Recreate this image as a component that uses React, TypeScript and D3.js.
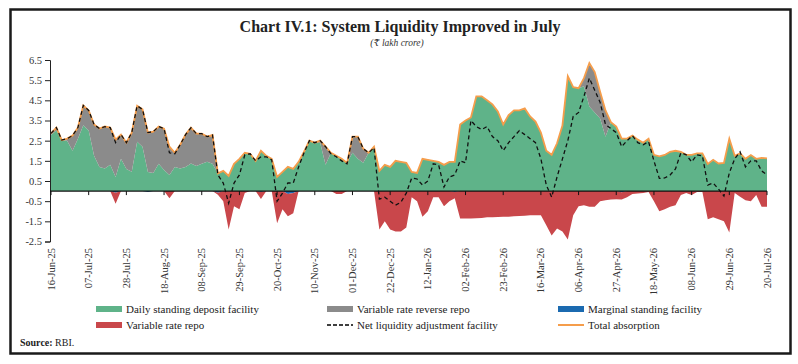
import React, { useEffect, useRef } from "react";
import * as d3 from "d3";

// x tick labels (every 3 weeks)
const tickLabels = [
  "16-Jun-25", "07-Jul-25", "28-Jul-25", "18-Aug-25", "08-Sep-25", "29-Sep-25", "20-Oct-25",
  "10-Nov-25", "01-Dec-25", "22-Dec-25", "12-Jan-26", "02-Feb-26", "23-Feb-26", "16-Mar-26",
  "06-Apr-26", "27-Apr-26", "18-May-26", "08-Jun-26", "29-Jun-26", "20-Jul-26",
];
const yTicks = [6.5, 5.5, 4.5, 3.5, 2.5, 1.5, 0.5, -0.5, -1.5, -2.5];

// readings every 3 days from 16-Jun-25 (₹ lakh crore)
const sdf = [
  2.78, 3.0, 2.53, 2.5, 2.0, 2.6, 3.27, 3.0, 1.75, 1.2, 1.12, 1.3, 0.7, 1.6, 1.1, 0.96, 2.45, 2.2, 0.95, 0.9,
  1.35, 1.05, 0.8, 1.2, 1.12, 1.2, 1.37, 1.25, 1.35, 1.45, 1.35, 0.88, 1.0, 0.75,
  1.35, 1.6, 1.9, 1.85, 1.5, 2.0, 1.75, 1.6, 0.7, 0.95, 1.2, 1.1, 1.45, 1.95, 2.5, 2.4, 2.4, 1.3, 1.9, 1.75,
  1.6, 1.4, 1.9, 1.6, 1.4, 1.9, 2.2, 1.0, 1.3, 1.2, 1.5, 1.45, 1.4,
  0.95, 0.9, 1.6, 1.55, 1.5, 1.45, 1.3, 1.45, 1.45, 3.3, 3.5, 3.65, 4.7, 4.7, 4.5, 4.3, 3.95, 3.3, 3.77, 4.0,
  4.0, 4.1, 3.7, 3.45, 2.9, 2.0, 1.8, 2.37, 3.25, 5.7, 5.15, 5.1, 5.2,
  4.2, 3.9, 3.6, 2.7, 3.42, 3.2, 2.6, 2.6, 2.75, 2.55, 2.4, 2.6, 1.8, 1.72, 1.79, 1.95, 2.0, 1.95, 1.8, 1.8,
  1.87, 1.87, 1.35, 1.55, 1.37, 1.4, 2.6, 1.75, 1.87, 1.6, 1.79, 1.6, 1.65, 1.62,
];
const vrrr = [
  0.08, 0.15, 0, 0.1, 0.75, 0.55, 0.98, 1.0, 1.55, 1.9, 2.08, 1.85, 1.85, 1.2, 1.3, 1.94, 1.78, 1.85, 1.95, 2.05,
  1.85, 2.05, 1.4, 0.7, 1.18, 1.6, 1.77, 1.6, 1.5, 1.25, 1.43, 0, 0, 0,
  0, 0, 0, 0, 0, 0, 0, 0, 0, 0, 0, 0, 0, 0, 0, 0, 0.1, 0.9, 0, 0,
  0, 0, 0.8, 1.1, 0.7, 0, 0, 0, 0, 0, 0, 0, 0,
  0, 0, 0, 0, 0, 0, 0, 0, 0, 0, 0, 0, 0, 0, 0, 0, 0, 0, 0, 0,
  0, 0, 0, 0, 0, 0, 0, 0, 0, 0, 0, 0, 0.4,
  2.15, 2.0, 1.33, 1.3, 0, 0, 0, 0, 0, 0, 0, 0, 0, 0, 0, 0, 0, 0, 0, 0,
  0, 0, 0, 0, 0, 0, 0, 0, 0, 0, 0, 0, 0, 0,
];
const msf = [
  0, 0, 0, 0, 0, 0, 0, 0, 0, 0, 0, 0, -0.08, 0, 0, 0, 0, 0, -0.05, 0,
  0, 0, 0, 0, 0, 0, 0, 0, 0, 0, 0, -0.08, 0, 0,
  0, 0, 0, 0, 0, -0.04, 0, 0, 0, 0, -0.15, -0.1, 0, 0, 0, 0, 0, 0, 0, 0,
  0, 0, 0, 0, 0, 0, 0, 0, 0, 0, 0, 0, 0,
  0, 0, 0, 0, 0, 0, 0, 0, -0.05, 0, 0, 0, 0, 0, 0, 0, 0, 0, 0, 0,
  0, 0, 0, 0, 0, 0, 0, 0, 0, 0, 0, 0, 0,
  0, 0, 0, 0, 0, 0, -0.06, 0, 0, 0, 0, 0, 0, 0, 0, 0, 0, 0, 0, 0,
  0, 0, 0, 0, 0, 0, 0, 0, 0, 0, 0, 0, 0, 0,
];
const vrr = [
  0, 0, 0, 0, 0, 0, 0, 0, 0, 0, 0, 0, -0.55, 0, 0, 0, 0, 0, 0, 0,
  0, 0, -0.35, 0, 0, 0, 0, 0, 0, 0, 0, -0.1, -0.5, -1.9,
  -0.75, -0.9, -0.1, 0, 0, -0.35, 0, 0, -1.6, -0.9, -1.1, -1.0, 0, 0, 0, 0, 0, 0, 0, -0.15,
  -0.15, 0, 0, 0, 0, 0, 0, -1.9, -1.5, -1.9, -2.0, -2.0, -1.8,
  -0.3, -0.5, -1.27, -1.0, -0.3, -0.3, -0.75, -0.5, -0.3, -1.36, -1.36, -1.36, -1.35, -1.33, -1.3, -1.3, -1.28, -1.27, -1.27, -1.25,
  -1.24, -1.22, -1.2, -1.2, -1.2, -1.7, -2.2, -1.85, -2.0, -2.4, -1.2, -0.75, -0.7,
  -0.78, -0.78, -0.5, -0.45, -0.42, -0.4, -0.36, -0.3, -0.15, -0.12, -0.1, -0.05, -0.5, -1.0, -0.9, -0.78, -0.7, -0.2, -0.1, -0.2,
  -0.05, -0.05, -1.4, -1.3, -1.4, -1.5, -2.05, -0.1, -0.28, -0.45, -0.5, -0.2, -0.78, -0.78,
];
const netLaf = [
  2.86, 3.15, 2.53, 2.6, 2.75, 3.15, 4.25, 4.0, 3.3, 3.1, 3.2, 3.15, 2.4, 2.8, 2.4, 2.9, 4.23, 4.05, 2.9, 2.95,
  3.2, 3.1, 1.9, 1.85, 2.3, 2.8, 3.14, 2.85, 2.85, 2.7, 2.78, 0.8, 0.4, -0.6,
  0.4, 0.8, 1.8, 1.85, 1.5, 1.7, 1.7, 1.55, -0.5, -0.1, 0.4, 0.4, 1.2, 1.9, 2.5, 2.4, 2.5, 2.2, 1.85, 1.7,
  1.5, 1.35, 2.7, 2.7, 2.1, 1.9, 2.15, -0.4, -0.3, -0.5, -0.7, -0.55, -0.1,
  0.65, 0.6, 0.3, 0.5, 1.35, 1.3, 0.2, 0.7, 0.8, 1.5, 1.4, 3.5, 3.2, 3.05, 3.2, 2.7, 2.5, 2.0, 2.4, 2.7,
  3.0, 2.8, 2.6, 2.4, 1.6, 0.3, -0.3, 0.7, 1.6, 2.5, 3.7, 3.9, 4.7,
  5.6, 5.0, 4.4, 3.3, 3.1, 2.9, 2.2, 2.5, 2.75, 2.4, 2.3, 2.45, 1.5, 0.63, 0.65, 0.8, 1.1, 1.9, 1.8, 1.45,
  1.8, 1.75, 0.3, 0.4, 0.1, -0.25, 0.9, 1.6, 1.95, 1.2, 1.5, 1.5, 1.0, 0.8,
];

const W = 798;
const H = 364;
const serif = "'Liberation Serif', 'DejaVu Serif', serif";

const legendItems = [
  { label: "Daily standing deposit facility", color: "#5fb389", kind: "box" },
  { label: "Variable rate reverse repo", color: "#8b8b8b", kind: "box" },
  { label: "Marginal standing facility", color: "#1b6ab0", kind: "box" },
  { label: "Variable rate repo", color: "#c9474b", kind: "box" },
  { label: "Net liquidity adjustment facility", color: "#000", kind: "dash" },
  { label: "Total absorption", color: "#f59d4b", kind: "line" },
];

export default function App() {
  const ref = useRef<SVGSVGElement>(null);

  useEffect(() => {
    const svg = d3.select(ref.current);
    svg.selectAll("*").remove();

    const parse = d3.timeParse("%d-%b-%y");
    const tickDates = tickLabels.map((t) => parse(t) as Date);
    const start = tickDates[0];
    const end = tickDates[tickDates.length - 1];

    const rows = sdf.map((s, i) => ({
      date: d3.timeDay.offset(start, 3 * i),
      sdf: s,
      total: s + vrrr[i],
      msf: msf[i],
      low: msf[i] + vrr[i],
      net: netLaf[i],
    }));

    const x = d3.scaleTime().domain([start, end]).range([51, 767]);
    const y = d3.scaleLinear().domain([-2.5, 6.5]).range([241.5, 60]);

    // frame
    svg.append("rect")
      .attr("x", 10.5).attr("y", 9.5)
      .attr("width", 780).attr("height", 344)
      .attr("fill", "#fff").attr("stroke", "#1a1a1a").attr("stroke-width", 2.5);

    svg.append("text")
      .attr("x", 400).attr("y", 32)
      .attr("text-anchor", "middle")
      .attr("font-family", serif).attr("font-weight", "bold").attr("font-size", 16)
      .attr("fill", "#222")
      .text("Chart IV.1: System Liquidity Improved in July");
    svg.append("text")
      .attr("x", 397).attr("y", 46)
      .attr("text-anchor", "middle")
      .attr("font-family", serif).attr("font-style", "italic").attr("font-size", 9.5)
      .attr("fill", "#333")
      .text("(₹ lakh crore)");

    const g = svg.append("g");

    const area = (lo: (d: any) => number, hi: (d: any) => number) =>
      d3.area<any>().x((d) => x(d.date)).y0((d) => y(lo(d))).y1((d) => y(hi(d)));

    g.append("path").datum(rows).attr("fill", "#5fb389")
      .attr("d", area(() => 0, (d) => d.sdf));
    g.append("path").datum(rows).attr("fill", "#8b8b8b")
      .attr("d", area((d) => d.sdf, (d) => d.total));
    g.append("path").datum(rows).attr("fill", "#1b6ab0")
      .attr("d", area(() => 0, (d) => d.msf));
    g.append("path").datum(rows).attr("fill", "#c9474b")
      .attr("d", area((d) => d.msf, (d) => d.low));

    g.append("path").datum(rows)
      .attr("fill", "none").attr("stroke", "#f59d4b").attr("stroke-width", 1.8)
      .attr("d", d3.line<any>().x((d) => x(d.date)).y((d) => y(d.total)));
    g.append("path").datum(rows)
      .attr("fill", "none").attr("stroke", "#111").attr("stroke-width", 1.3)
      .attr("stroke-dasharray", "4,3")
      .attr("d", d3.line<any>().x((d) => x(d.date)).y((d) => y(d.net)));

    // y axis
    const yAxis = svg.append("g")
      .attr("transform", "translate(50,0)")
      .call(d3.axisLeft(y).tickValues(yTicks).tickSize(5).tickSizeOuter(5)
        .tickFormat((d) => (+d).toFixed(1)));
    yAxis.selectAll("text")
      .attr("font-family", serif).attr("font-size", 10.5).attr("fill", "#333");
    yAxis.selectAll("line, path").attr("stroke", "#222");

    // zero line and ticks
    svg.append("line")
      .attr("x1", 50).attr("x2", 767)
      .attr("y1", y(0)).attr("y2", y(0))
      .attr("stroke", "#111").attr("stroke-width", 1.2);
    svg.append("g").selectAll("line").data(tickDates).join("line")
      .attr("x1", (d) => x(d)).attr("x2", (d) => x(d))
      .attr("y1", y(0)).attr("y2", y(0) + 4)
      .attr("stroke", "#111");
    svg.append("g").selectAll("text").data(tickLabels).join("text")
      .attr("transform", (d, i) => `translate(${x(tickDates[i]) + 3.5},248) rotate(-90)`)
      .attr("text-anchor", "end")
      .attr("font-family", serif).attr("font-size", 10.5).attr("fill", "#333")
      .text((d) => d);

    // legend
    const cols = [96, 327, 558];
    const rowsY = [309, 325];
    const leg = svg.append("g").selectAll("g").data(legendItems).join("g")
      .attr("transform", (d, i) => `translate(${cols[i % 3]},${rowsY[Math.floor(i / 3)]})`);
    leg.filter((d) => d.kind === "box").append("rect")
      .attr("x", 0).attr("y", -3).attr("width", 26).attr("height", 6)
      .attr("fill", (d) => d.color);
    leg.filter((d) => d.kind !== "box").append("line")
      .attr("x1", 0).attr("x2", 26).attr("y1", 0).attr("y2", 0)
      .attr("stroke", (d) => d.color)
      .attr("stroke-width", (d) => (d.kind === "dash" ? 1.5 : 2))
      .attr("stroke-dasharray", (d) => (d.kind === "dash" ? "4,2" : null));
    leg.append("text")
      .attr("x", 30).attr("y", 0).attr("dy", "0.35em")
      .attr("font-family", serif).attr("font-size", 11).attr("fill", "#222")
      .text((d) => d.label);

    const src = svg.append("text")
      .attr("x", 20).attr("y", 346)
      .attr("font-family", serif).attr("font-size", 10).attr("fill", "#222");
    src.append("tspan").attr("font-weight", "bold").text("Source:");
    src.append("tspan").text(" RBI.");
  }, []);

  return (
    <svg
      ref={ref}
      width={W}
      height={H}
      style={{ position: "absolute", left: 0, top: 0, background: "#fff" }}
    />
  );
}
